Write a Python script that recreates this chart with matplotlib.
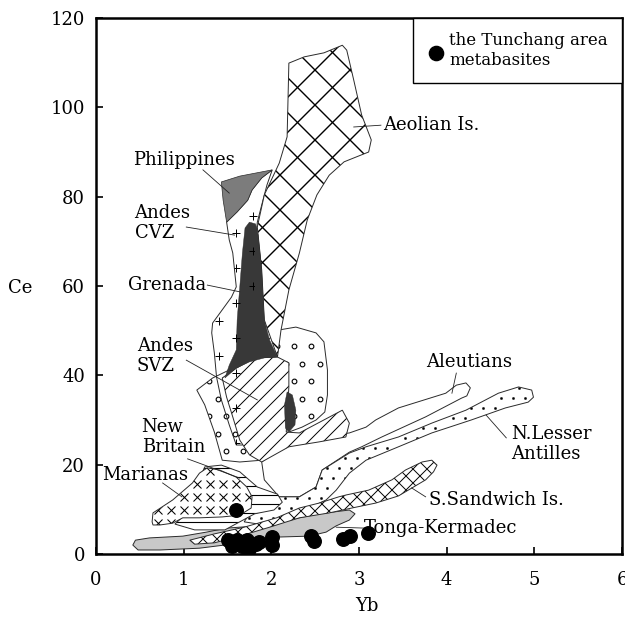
import numpy as np
import matplotlib
matplotlib.use('Agg')
import matplotlib.pyplot as plt
from matplotlib.patches import Polygon
from matplotlib.path import Path
from matplotlib.collections import LineCollection

plt.rcParams['font.family'] = ['DejaVu Serif']
plt.rcParams['font.size'] = 13

# ---------------- data (Yb, Ce) ----------------
aeolian_x = [2.20, 2.375, 2.60, 2.81, 2.86, 2.94, 3.03, 3.14, 3.11, 2.83, 2.66, 2.52, 2.41, 2.32,
             2.20, 2.11, 2.07, 1.92, 1.89, 1.84, 1.92, 2.09, 2.18, 2.19]
aeolian_y = [109.9, 111.3, 112.2, 113.9, 112.8, 106.1, 98.3, 92.7, 90.0, 87.8, 84.8, 80.4, 74.8, 67.4,
             59.1, 50.1, 44.1, 52.4, 63.6, 73.2, 80.4, 87.5, 93.4, 101.6]

philippines_x = [1.43, 1.64, 2.01, 1.89, 1.78, 1.73, 1.61, 1.49, 1.45]
philippines_y = [83.3, 84.6, 86.0, 84.2, 81.5, 79.2, 76.6, 74.3, 79.2]

cvz_x = [2.01, 1.95, 1.89, 1.84, 1.81, 1.81, 1.75, 1.69, 1.69, 1.67, 1.60, 1.52, 1.43, 1.375, 1.35,
         1.32, 1.33, 1.545, 1.60, 1.56, 1.52, 1.49, 1.61, 1.73, 1.78, 1.89]
cvz_y = [86.0, 82.6, 78.1, 74.3, 68.0, 56.9, 47.9, 39.0, 30.0, 24.4, 24.4, 28.9, 34.5, 39.6, 45.0,
         49.5, 51.7, 57.5, 59.8, 67.4, 70.3, 74.3, 76.6, 79.2, 81.5, 84.2]

grenada_x = [1.75, 1.82, 1.85, 1.89, 1.92, 1.98, 2.07, 1.92, 1.75, 1.60, 1.47, 1.52, 1.60, 1.61, 1.64, 1.67, 1.70]
grenada_y = [74.3, 73.9, 71.4, 63.6, 52.4, 47.9, 44.1, 43.9, 43.0, 41.6, 39.4, 42.3, 45.7, 52.4, 59.8, 67.4, 73.0]

grenada2_x = [2.18, 2.24, 2.28, 2.27, 2.20, 2.16, 2.15]
grenada2_y = [36.3, 35.6, 32.2, 28.9, 27.3, 28.2, 33.4]

svz_x = [1.44, 1.60, 1.81, 2.07, 2.20, 2.20, 2.17, 2.32, 2.81, 2.89, 2.85, 2.545, 2.20, 1.89, 1.75, 1.64, 1.56, 1.49]
svz_y = [39.4, 41.6, 43.9, 44.1, 42.8, 37.4, 27.3, 27.1, 32.2, 29.3, 26.2, 25.1, 24.0, 20.6, 22.2, 25.5, 30.7, 35.1]

circ_x = [1.15, 1.33, 1.52, 1.86, 2.07, 2.28, 2.51, 2.60, 2.64, 2.64, 2.61, 2.51, 2.35, 2.20, 1.89, 1.64, 1.44, 1.35, 1.24]
circ_y = [36.7, 39.4, 41.2, 45.7, 50.1, 50.8, 49.5, 47.5, 41.2, 35.6, 31.8, 30.0, 28.4, 27.3, 21.0, 20.6, 21.0, 27.3, 33.4]

aleut_x = [1.89, 2.15, 2.32, 2.545, 2.89, 3.08, 3.19, 3.45, 3.99, 4.11, 4.22, 4.27, 4.23, 4.17, 3.76, 3.26,
           3.03, 2.89, 2.58, 2.51, 2.32, 2.09, 1.92]
aleut_y = [20.6, 24.4, 25.5, 26.2, 27.1, 28.4, 30.0, 32.7, 36.0, 37.8, 38.3, 37.2, 35.4, 34.9, 30.7, 26.2,
           24.0, 22.8, 18.8, 15.0, 12.8, 12.8, 16.6]

nla_x = [1.82, 1.92, 2.32, 2.51, 2.58, 2.89, 3.08, 3.45, 3.83, 4.22, 4.59, 4.82, 4.97, 4.99, 4.93, 4.67, 4.28,
         3.83, 3.45, 3.08, 2.89, 2.74, 2.625, 2.43, 2.20, 1.92, 1.69]
nla_y = [11.0, 12.8, 12.8, 15.0, 18.8, 22.6, 24.0, 26.2, 29.3, 32.2, 36.0, 37.4, 36.7, 35.1, 34.0, 32.7, 30.0,
         27.1, 24.0, 21.0, 18.1, 14.3, 12.1, 10.3, 8.1, 6.5, 7.2]

ssand_x = [1.07, 1.35, 1.69, 2.06, 2.32, 2.545, 2.77, 2.85, 3.11, 3.375, 3.53, 3.72, 3.83, 3.89, 3.85, 3.76,
           3.45, 3.19, 2.92, 2.66, 2.32, 1.98, 1.64, 1.35, 1.125]
ssand_y = [3.1, 4.5, 6.0, 8.1, 10.3, 11.4, 12.8, 13.2, 14.3, 16.6, 18.8, 20.6, 21.0, 19.9, 18.4, 16.6,
           13.0, 11.4, 10.3, 9.2, 8.1, 6.0, 4.0, 2.5, 2.2]

tonga_x = [0.42, 0.45, 0.61, 0.99, 1.26, 1.49, 1.86, 2.24, 2.545, 2.89, 2.955, 2.89, 2.74, 2.625, 2.43, 2.09,
           1.75, 1.18, 0.73, 0.48]
tonga_y = [2.0, 3.1, 3.6, 4.0, 4.9, 5.8, 6.3, 7.8, 9.0, 9.85, 9.0, 7.6, 6.3, 4.9, 4.0, 3.8,
           2.7, 1.3, 0.9, 0.9]

mari_x = [0.64, 0.65, 0.875, 1.10, 1.18, 1.27, 1.41, 1.60, 1.72, 1.78, 1.77, 1.64, 1.44, 1.18, 0.99, 0.875, 0.73, 0.65]
mari_y = [7.2, 9.2, 12.1, 15.9, 18.1, 19.3, 18.8, 17.2, 15.0, 12.8, 10.3, 8.7, 8.3, 8.1, 8.1, 6.9, 6.5, 6.5]

nbrit_x = [1.24, 1.43, 1.64, 1.84, 2.07, 2.125, 2.03, 1.81, 1.64, 1.47, 1.125, 0.90, 1.01]
nbrit_y = [19.5, 19.9, 18.4, 15.0, 13.4, 11.6, 9.85, 9.0, 7.2, 5.4, 5.4, 6.7, 8.7]

# Tunchang area metabasites
yb = [1.60, 1.50, 1.55, 1.61, 1.67, 1.72, 1.75, 1.82, 1.86, 2.01, 2.01, 2.45, 2.49, 2.82, 2.90, 3.10]
ce = [9.85, 3.1, 1.8, 3.1, 1.8, 3.1, 1.1, 2.2, 2.7, 3.8, 2.0, 4.0, 2.9, 3.4, 4.0, 4.7]

xticks = [0, 1, 2, 3, 4, 5, 6]
yticks = [0, 20, 40, 60, 80, 100, 120]

# ---------------- figure ----------------
W, H = 625, 630
fig = plt.figure(figsize=(W / 100, H / 100), dpi=100)
ax = fig.add_axes([96 / W, 1 - 554 / H, (622 - 96) / W, (554 - 18) / H])
ax.set_xlim(0, 6)
ax.set_ylim(0, 120)

EC = '#2a2a2a'


def field(xs, ys, z, fc='white', lw=0.7):
    xy = np.column_stack([xs, ys])
    p = Polygon(xy, closed=True, fc=fc, ec='none', zorder=z)
    ax.add_patch(p)
    o = Polygon(xy, closed=True, fc='none', ec=EC, lw=lw, zorder=z + 0.2)
    ax.add_patch(o)
    return p


def line_hatch(p, kinds, step, lw=0.8, color='k'):
    disp = ax.transData.transform(p.get_xy())
    x0, y0 = disp.min(0)
    x1, y1 = disp.max(0)
    segs = []
    for k in kinds:
        if k == '-':
            for y in np.arange(np.floor(y0 / step) * step, y1 + step, step):
                segs.append([(x0 - 2, y), (x1 + 2, y)])
        elif k == '/':
            for c in np.arange(np.floor((x0 - y1) / step) * step, x1 - y0 + step, step):
                segs.append([(c + y0, y0), (c + y1, y1)])
        elif k == '\\':
            for c in np.arange(np.floor((x0 + y0) / step) * step, x1 + y1 + step, step):
                segs.append([(c - y0, y0), (c - y1, y1)])
    inv = ax.transData.inverted()
    segs = [inv.transform(np.array(s)) for s in segs]
    lc = LineCollection(segs, colors=color, linewidths=lw, zorder=p.get_zorder() + 0.1)
    lc.set_clip_path(p)
    ax.add_collection(lc)


def marker_fill(p, marker, dx, dy, stagger, ms, mew=0.8, mfc='none', ox=0.0, oy=0.0, z=None):
    disp = ax.transData.transform(p.get_xy())
    path = Path(disp)
    x0, y0 = disp.min(0)
    x1, y1 = disp.max(0)
    pts = []
    j0 = int(np.floor((y0 - oy) / dy))
    j1 = int(np.ceil((y1 - oy) / dy))
    for j in range(j0, j1 + 1):
        y = oy + j * dy
        off = stagger if j % 2 else 0.0
        i0 = int(np.floor((x0 - ox - off) / dx))
        i1 = int(np.ceil((x1 - ox - off) / dx))
        for i in range(i0, i1 + 1):
            pts.append((ox + off + i * dx, y))
    pts = np.array(pts)
    pts = pts[path.contains_points(pts)]
    if len(pts) == 0:
        return
    d = ax.transData.inverted().transform(pts)
    ln, = ax.plot(d[:, 0], d[:, 1], linestyle='none', marker=marker, ms=ms, mew=mew,
                  mec='k', mfc=mfc, zorder=(p.get_zorder() + 0.1) if z is None else z)
    ln.set_clip_path(p)


# back to front
p = field(aleut_x, aleut_y, 1)
p = field(nla_x, nla_y, 2)
marker_fill(p, 'o', 12, 10, 6, 1.6, mew=0.3, mfc='k', ox=3, oy=2)
p = field(tonga_x, tonga_y, 3, fc='#c8c8c8')
p = field(ssand_x, ssand_y, 4)
line_hatch(p, ['/', '\\'], 14, lw=0.7)
p = field(circ_x, circ_y, 5)
marker_fill(p, 'o', 17, 17.5, 8.5, 3.4, mew=0.8, ox=5, oy=4)
p_cvz = field(cvz_x, cvz_y, 6, fc='none')
p = field(svz_x, svz_y, 7)
line_hatch(p, ['/'], 15, lw=0.7)
p = field(aeolian_x, aeolian_y, 8)
line_hatch(p, ['/', '\\'], 35, lw=1.0)
field(grenada_x, grenada_y, 9, fc='#383838', lw=0.3)
field(grenada2_x, grenada2_y, 9, fc='#383838', lw=0.3)
marker_fill(p_cvz, '+', 34, 17.5, 17, 6, mew=0.7, ox=32, oy=12, z=9.5)
field(philippines_x, philippines_y, 10, fc='#7c7c7c', lw=0.5)
p = field(nbrit_x, nbrit_y, 11)
line_hatch(p, ['-'], 9, lw=0.8)
p = field(mari_x, mari_y, 12)
marker_fill(p, 'x', 13, 13, 0, 5.2, mew=0.75, ox=2, oy=3)

# data points
ax.scatter(yb, ce, s=95, color='k', zorder=20, label='the Tunchang area\nmetabasites')

# labels and leader lines
labels = [
    ('Aeolian Is.', 3.27, 96.0, 2.94, 95.6, 3.25, 96.0),
    ('Philippines', 0.42, 88.2, 1.22, 86.0, 1.52, 80.8),
    ('Andes\nCVZ', 0.44, 74.1, 1.03, 73.2, 1.58, 71.4),
    ('Grenada', 0.36, 60.2, 1.27, 60.2, 1.64, 58.7),
    ('Andes\nSVZ', 0.465, 44.3, 1.03, 43.4, 1.84, 34.5),
    ('New\nBritain', 0.52, 26.2, 1.045, 21.3, 1.64, 17.0),
    ('Marianas', 0.07, 17.7, 0.76, 15.9, 0.98, 12.8),
    ('Aleutians', 3.76, 43.0, 4.11, 40.5, 4.06, 36.0),
    ('N.Lesser\nAntilles', 4.74, 24.7, 4.68, 26.0, 4.45, 31.1),
    ('S.Sandwich Is.', 3.80, 12.1, 3.76, 12.8, 3.60, 14.8),
    ('Tonga-Kermadec', 3.06, 5.8, 2.74, 6.0, 3.06, 5.8),
]
for t, tx, ty, lx0, ly0, lx1, ly1 in labels:
    ax.plot([lx0, lx1], [ly0, ly1], color='#222', lw=0.6, zorder=15)
    ax.text(tx, ty, t, ha='left', va='center', fontsize=13, linespacing=1.15, zorder=16)

# axes styling
ax.set_xticks(xticks)
ax.set_yticks(yticks)
ax.tick_params(direction='in', length=5, width=1.2, labelsize=13, top=False, right=False)
ax.tick_params(axis='x', pad=12)
ax.tick_params(axis='y', pad=8)
for s in ax.spines.values():
    s.set_linewidth(1.8)

fig.text(20 / W, 1 - 288 / H, 'Ce', ha='center', va='center', fontsize=13)
fig.text(367 / W, 1 - 606 / H, 'Yb', ha='center', va='center', fontsize=13)

leg = ax.legend(loc='upper right', bbox_to_anchor=(1, 1), borderaxespad=0, fancybox=False,
                edgecolor='k', framealpha=1, fontsize=12, handletextpad=0.3, handlelength=1.0,
                borderpad=0.85, markerscale=1.05)
leg.get_frame().set_linewidth(1.0)
leg.set_zorder(30)

fig.savefig('out.png', dpi=100)
